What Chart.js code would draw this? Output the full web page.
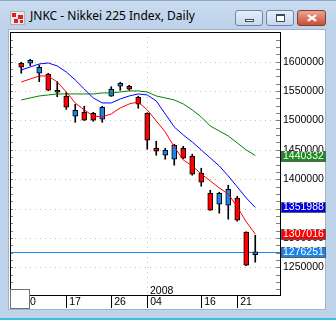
<!DOCTYPE html>
<html>
<head>
<meta charset="utf-8">
<script src="https://cdn.jsdelivr.net/npm/chart.js@4.4.1/dist/chart.umd.min.js"></script>
<style>
  html, body { margin: 0; padding: 0; }
  body { width: 336px; height: 320px; overflow: hidden; position: relative; background: #bfd4eb; }
  #titlebar { position: absolute; left: 0; top: 0; width: 336px; height: 29px; background: linear-gradient(#c9dbef, #bcd2ea); border-top: 1px solid #8fa8c4; box-sizing: border-box; }
  #icon { position: absolute; left: 10px; top: 11px; width: 15px; height: 14px; background: #e8e8e8; border: 1px solid #b0b0b0; box-sizing: border-box; }
  #icon i { position: absolute; background: #e02020; }
  #title { position: absolute; left: 30px; top: 8px; font: 12px "Noto Sans", sans-serif; line-height: 16px; color: #000; white-space: nowrap; }
  .btn { position: absolute; top: 10px; height: 16px; border: 1px solid #6d87a8; border-radius: 3px; box-sizing: border-box; background: linear-gradient(#e6eef8, #c8d8ec); }
  #bmin { left: 235px; width: 28px; }
  #bmax { left: 266px; width: 28px; }
  #bclose { left: 297px; width: 29px; border-color: #843a2c; background: linear-gradient(#e8a593, #c84f38); }
  #bmin i { position: absolute; left: 9px; top: 8px; width: 9px; height: 3px; background: #fff; border: 1px solid #3c4c60; box-sizing: border-box; }
  #bmax i { position: absolute; left: 9px; top: 3px; width: 9px; height: 8px; background: #fff; border: 1px solid #3c4c60; border-top-width: 2px; box-sizing: border-box; }
  #bclose i { position: absolute; left: 9px; top: 6px; width: 10px; height: 2px; background: #fff; }
  #bclose i.a { transform: rotate(35deg); }
  #bclose i.b { transform: rotate(-35deg); }
  #client { position: absolute; left: 8px; top: 29px; width: 318px; height: 281px; background: #fff; border: 1px solid #a3b3c6; box-sizing: border-box; }
  #bottomline { position: absolute; left: 0; top: 318px; width: 336px; height: 2px; background: #3fbfd8; }
  #corner { position: absolute; left: 10px; top: 289px; width: 20px; height: 20px; background: #fff; border: 1px solid #707070; box-sizing: border-box; z-index: 3; }
  #chartWrap { position: absolute; left: 0; top: 0; width: 336px; height: 320px; z-index: 2; }
</style>
</head>
<body>
<div id="titlebar"></div>
<div id="icon"><i style="left:1px;top:1px;width:4px;height:4px"></i><i style="left:7px;top:3px;width:5px;height:4px"></i><i style="left:3px;top:7px;width:4px;height:4px"></i><i style="left:9px;top:8px;width:3px;height:3px"></i></div>
<div id="title">JNKC - Nikkei 225 Index, Daily</div>
<div class="btn" id="bmin"><i></i></div>
<div class="btn" id="bmax"><i></i></div>
<div class="btn" id="bclose"><i class="a"></i><i class="b"></i></div>
<div id="client"></div>
<div id="bottomline"></div>
<div id="corner"></div>
<div id="chartWrap"><canvas id="chart" width="336" height="320"></canvas></div>

<script>
// daily bars, Dec 2007 - Jan 2008 (index 0 = Dec 10)
const tickIdx = [0, 5, 10, 14, 20, 24];
const tickLabels = ["10", "17", "26", "04", "16", "21"];
const yearIdx = 14;
const yearLabel = "2008";
const yTicks = [1250000, 1300000, 1350000, 1400000, 1450000, 1500000, 1550000, 1600000];

const opens  = [1597300, 1597300, 1580300, 1578600, 1551400, 1541200, 1507100, 1513900, 1512200, 1502000,
                1541200, 1558200, 1558200, 1539500, 1512200, 1452700, 1440800, 1434000, 1452700, 1439100,
                1410200, 1376200, 1357500, 1355800, 1367700, 1309900, 1271500];
const highs  = [1599000, 1604100, 1594400, 1580300, 1566000, 1548000, 1527600, 1524100, 1513900, 1524100,
                1557500, 1565000, 1559900, 1541200, 1513000, 1464600, 1452700, 1459500, 1456100, 1442500,
                1418700, 1381300, 1377900, 1389800, 1371100, 1310500, 1304800];
const lows   = [1580300, 1593200, 1566000, 1550500, 1540500, 1519000, 1496900, 1500000, 1498600, 1496900,
                1541000, 1551400, 1551400, 1520700, 1451000, 1440800, 1434000, 1423800, 1435000, 1406800,
                1388100, 1347000, 1342200, 1332000, 1328600, 1253000, 1258800];
const closes = [1590500, 1602400, 1590500, 1551400, 1548000, 1522400, 1517300, 1500300, 1500300, 1522400,
                1553100, 1563300, 1553100, 1527600, 1466300, 1447600, 1449300, 1457800, 1435700, 1408500,
                1394900, 1347300, 1376200, 1383000, 1330300, 1253700, 1276251];

const maFast = [1565500, 1570600, 1575700, 1575700, 1565500, 1548500, 1529800, 1517900, 1507700, 1506000,
                1511100, 1521300, 1528100, 1531500, 1517900, 1499100, 1480400, 1454900, 1432800, 1422600,
                1409000, 1397100, 1385200, 1375000, 1352900, 1327400, 1307016];
const maMid  = [1585900, 1591000, 1596100, 1597800, 1592700, 1582500, 1568900, 1553600, 1538300, 1529800,
                1529800, 1536600, 1541700, 1545100, 1543400, 1533200, 1511100, 1488900, 1475300, 1463400,
                1449800, 1436200, 1422600, 1405600, 1386900, 1368200, 1351988];
const maSlow = [1534900, 1538300, 1541700, 1543400, 1545100, 1545100, 1545100, 1545100, 1545100, 1546800,
                1546800, 1548500, 1550200, 1550200, 1548500, 1541700, 1538300, 1534900, 1528100, 1517900,
                1506000, 1490600, 1482100, 1473600, 1461700, 1449800, 1440332];

const upColor = "#1c86e8";
const downColor = "#ff0000";
const labelFont = '10.5px "Liberation Sans"';

Chart.defaults.font.family = '"Liberation Sans", Arial, sans-serif';

const bodies = opens.map((o, i) => ({ x: i, y: [Math.min(o, closes[i]), Math.max(o, closes[i])] }));
const wicks = lows.map((l, i) => ({ x: i, y: [l, highs[i]] }));
const candleColors = opens.map((o, i) => closes[i] >= o ? upColor : downColor);
const pts = arr => arr.map((v, i) => ({ x: i, y: v }));

const extras = {
  id: "extras",
  beforeDatasetsDraw(chart) {
    const { ctx, chartArea: a, scales: { x, y } } = chart;
    ctx.save();
    ctx.lineWidth = 1;
    ctx.strokeStyle = "#c4c4c4";
    ctx.setLineDash([1, 4]);
    y.ticks.forEach(t => {
      const py = Math.round(y.getPixelForValue(t.value)) + 0.5;
      ctx.beginPath(); ctx.moveTo(a.left, py); ctx.lineTo(a.right, py); ctx.stroke();
    });
    const yx = Math.round(x.getPixelForValue(yearIdx)) + 0.5;
    ctx.beginPath(); ctx.moveTo(yx, a.top); ctx.lineTo(yx, a.bottom); ctx.stroke();
    ctx.setLineDash([]);
    // last price line
    const cy = Math.round(y.getPixelForValue(closes[closes.length - 1])) + 0.5;
    ctx.strokeStyle = upColor;
    ctx.beginPath(); ctx.moveTo(a.left, cy); ctx.lineTo(a.right, cy); ctx.stroke();
    ctx.restore();
  },
  afterDraw(chart) {
    const { ctx, chartArea: a, scales: { x, y } } = chart;
    ctx.save();
    ctx.lineWidth = 1;
    // small ticks on both sides
    ctx.strokeStyle = "#808080";
    for (let v = 1212500; v <= 1650000; v += 12500) {
      const py = Math.round(y.getPixelForValue(v)) + 0.5;
      if (py <= a.top + 1 || py >= a.bottom) continue;
      ctx.beginPath(); ctx.moveTo(a.left, py); ctx.lineTo(a.left + 3, py); ctx.stroke();
      ctx.beginPath(); ctx.moveTo(a.right - 4, py); ctx.lineTo(a.right, py); ctx.stroke();
    }
    // frame
    ctx.strokeStyle = "#000";
    ctx.strokeRect(a.left + 0.5, a.top + 0.5, a.right - a.left, a.bottom - a.top);
    // date separators
    tickIdx.forEach(i => {
      const px = Math.round(x.getPixelForValue(i)) + 0.5;
      ctx.beginPath(); ctx.moveTo(px, a.bottom); ctx.lineTo(px, a.bottom + 13); ctx.stroke();
    });
    ctx.font = labelFont;
    ctx.fillStyle = "#000";
    ctx.textBaseline = "middle";
    ctx.fillText(yearLabel, Math.round(x.getPixelForValue(yearIdx)) + 3, a.bottom - 4);
    // value tags on the price axis
    const last = arr => arr[arr.length - 1];
    const tags = [
      [last(maSlow), "#1f8a1f"],
      [last(maMid), "#0000e6"],
      [last(maFast), "#ff0000"],
      [last(closes), upColor]
    ];
    tags.forEach(([v, c]) => {
      const py = Math.round(y.getPixelForValue(v));
      ctx.fillStyle = c;
      ctx.fillRect(a.right + 1, py - 5, 44, 10);
      ctx.strokeStyle = "#5a5a5a";
      ctx.strokeRect(a.right + 1.5, py - 4.5, 44, 10);
      ctx.fillStyle = "#fff";
      ctx.fillText(String(v), a.right + 3, py + 0.5);
    });
    ctx.restore();
  }
};

new Chart(document.getElementById("chart"), {
  type: "bar",
  data: {
    datasets: [
      { type: "line", data: pts(maFast), borderColor: "#ff0000", borderWidth: 1, pointRadius: 0, tension: 0, order: 0 },
      { type: "line", data: pts(maMid), borderColor: "#0000ff", borderWidth: 1, pointRadius: 0, tension: 0, order: 0 },
      { type: "line", data: pts(maSlow), borderColor: "#008000", borderWidth: 1, pointRadius: 0, tension: 0, order: 0 },
      { data: bodies, backgroundColor: candleColors, borderColor: "#000", borderWidth: 1, borderSkipped: false,
        barThickness: 5, grouped: false, order: 1 },
      { data: wicks, backgroundColor: "#000", borderWidth: 0, barThickness: 1, grouped: false, order: 2 }
    ]
  },
  options: {
    responsive: false,
    animation: false,
    devicePixelRatio: 1,
    layout: { padding: { left: 10, top: 32, right: 0, bottom: 0 } },
    plugins: { legend: { display: false }, tooltip: { enabled: false } },
    scales: {
      x: {
        type: "linear",
        offset: false,
        min: -1.25,
        max: 28.75,
        grid: { display: false, drawTicks: false, offset: false },
        border: { display: false },
        afterBuildTicks: s => { s.ticks = tickIdx.map(v => ({ value: v })); },
        afterFit: s => { s.height = 25; },
        ticks: {
          autoSkip: false,
          maxRotation: 0,
          align: "start",
          labelOffset: 3,
          padding: 1,
          color: "#000",
          font: { size: 10.5 },
          callback: (v, i) => tickLabels[i]
        }
      },
      y: {
        position: "right",
        min: 1203000,
        max: 1650500,
        grid: { display: false, drawTicks: false },
        border: { display: false },
        afterBuildTicks: s => { s.ticks = yTicks.map(v => ({ value: v })); },
        afterFit: s => { s.width = 56; },
        ticks: {
          autoSkip: false,
          padding: 3,
          color: "#000",
          font: { size: 10.5 },
          callback: (v, i) => String(yTicks[i])
        }
      }
    }
  },
  plugins: [extras]
});
</script>
</body>
</html>
